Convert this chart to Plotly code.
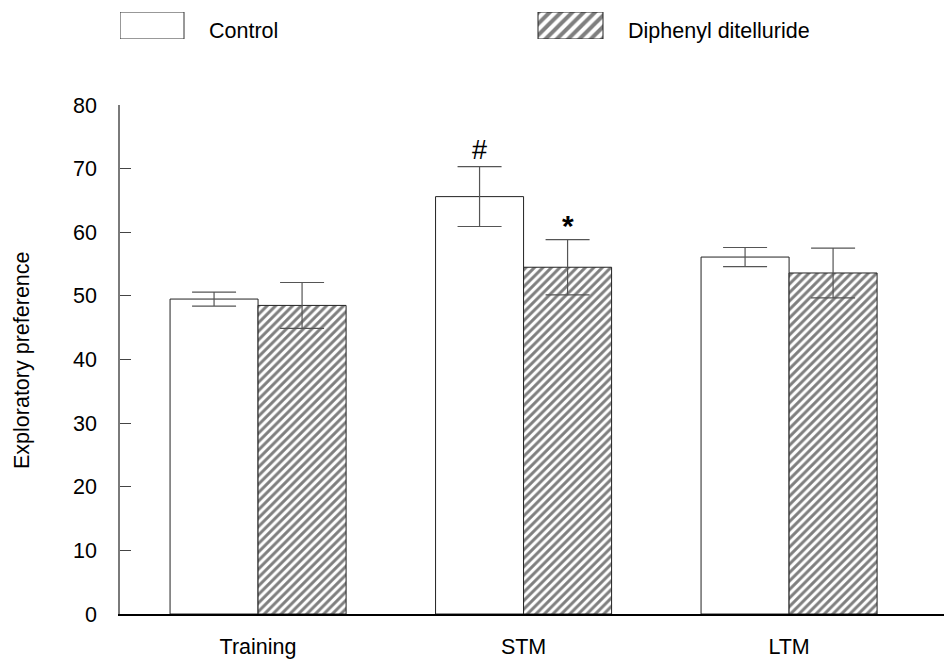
import plotly.graph_objects as go

categories = ["Training", "STM", "LTM"]
control_mean = [49.5, 65.6, 56.1]
control_err = [1.1, 4.7, 1.5]
dpdt_mean = [48.5, 54.5, 53.6]
dpdt_err = [3.6, 4.35, 3.9]
series_names = ["Control", "Diphenyl ditelluride"]
y_ticks = [0, 10, 20, 30, 40, 50, 60, 70, 80]

FONT = "Liberation Sans, Arial, sans-serif"
FS = 21.5

W, H = 944, 661
ML, MR, MT, MB = 120, 0, 10, 47
PH = H - MT - MB
PW = W - ML - MR


def py(p):
    """pixel row -> paper y"""
    return (H - MB - p) / PH


def px(p):
    return (p - ML) / PW


fig = go.Figure()

fig.add_trace(go.Bar(
    x=categories, y=control_mean, name=series_names[0],
    marker=dict(color="white", line=dict(color="#222222", width=1)),
    error_y=dict(type="data", array=control_err, color="#555555", thickness=1.2, width=22),
    showlegend=False,
))
fig.add_trace(go.Bar(
    x=categories, y=dpdt_mean, name=series_names[1],
    marker=dict(color="white", line=dict(color="#222222", width=1),
                pattern=dict(shape="/", size=6, solidity=0.5, fgcolor="black", bgcolor="white")),
    error_y=dict(type="data", array=dpdt_err, color="#555555", thickness=1.2, width=22),
    showlegend=False,
))

# custom legend boxes on a hidden helper axis (pixel-like units)
fig.add_trace(go.Bar(
    x=[152], y=[1], width=[64], base=[0], xaxis="x2", yaxis="y2",
    marker=dict(color="white", line=dict(color="#333333", width=1)),
    showlegend=False, hoverinfo="skip",
))
fig.add_trace(go.Bar(
    x=[570.5], y=[1], width=[65], base=[0], xaxis="x2", yaxis="y2",
    marker=dict(color="white", line=dict(color="#222222", width=1),
                pattern=dict(shape="/", size=8, solidity=0.5, fgcolor="black", bgcolor="white")),
    showlegend=False, hoverinfo="skip",
))

annotations = [
    dict(x=1 - 0.1657, y=control_mean[1] + control_err[1], xref="x", yref="y",
         text="#", showarrow=False, yanchor="bottom", yshift=0,
         font=dict(family=FONT, size=27, color="black")),
    dict(x=1 + 0.1657, y=dpdt_mean[1] + dpdt_err[1], xref="x", yref="y",
         text="<b>*</b>", showarrow=False, yanchor="bottom", yshift=-4,
         font=dict(family=FONT, size=30, color="black")),
    dict(x=px(207), y=py(31), xref="paper", yref="paper",
         text=series_names[0], showarrow=False, xanchor="left", yanchor="middle",
         font=dict(family=FONT, size=FS, color="black")),
    dict(x=px(626), y=py(31), xref="paper", yref="paper",
         text=series_names[1], showarrow=False, xanchor="left", yanchor="middle",
         font=dict(family=FONT, size=FS, color="black")),
    dict(x=px(22), y=py(360), xref="paper", yref="paper",
         text="Exploratory preference", textangle=-90, showarrow=False,
         xanchor="center", yanchor="middle",
         font=dict(family=FONT, size=FS, color="black")),
]

fig.update_layout(
    width=W, height=H,
    margin=dict(l=ML, r=MR, t=MT, b=MB, autoexpand=False),
    paper_bgcolor="white", plot_bgcolor="white",
    barmode="group", bargap=0.337, bargroupgap=0,
    font=dict(family=FONT, size=FS, color="black"),
    xaxis=dict(
        range=[-0.52, 2.5835], showline=True, linecolor="black", linewidth=1.5,
        ticks="", showgrid=False, zeroline=False, ticklabelstandoff=12,
        tickfont=dict(family=FONT, size=FS, color="black"),
    ),
    yaxis=dict(
        domain=[0, py(105)], range=[0, 80], tickvals=y_ticks,
        showline=True, linecolor="#7a7a7a", linewidth=1.5,
        ticks="inside", ticklen=11, tickcolor="#444444", tickwidth=1.2,
        showgrid=False, zeroline=False, ticklabelstandoff=17,
        tickfont=dict(family=FONT, size=FS, color="black"),
    ),
    xaxis2=dict(domain=[0, 1], range=[120, 944], anchor="y2", visible=False, fixedrange=True),
    yaxis2=dict(domain=[py(39), py(12)], range=[0, 1], anchor="x2",
                visible=False, fixedrange=True),
    annotations=annotations,
)

fig.write_html("out.html")
